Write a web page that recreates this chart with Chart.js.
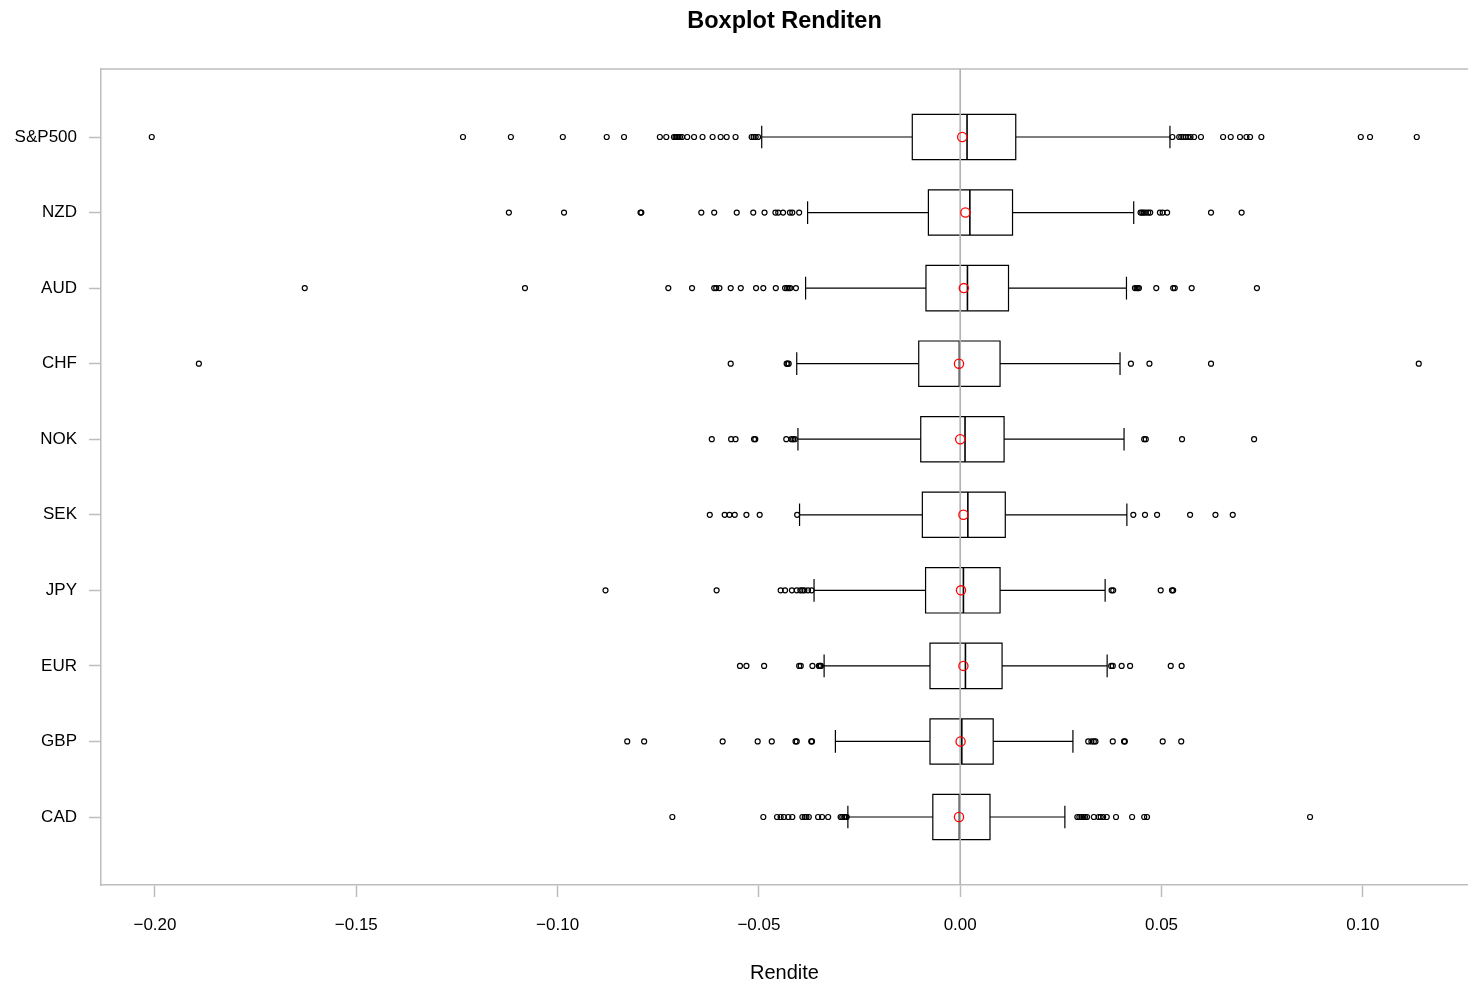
<!DOCTYPE html>
<html lang="de">
<head>
<meta charset="utf-8">
<title>Boxplot Renditen</title>
<script src="https://cdn.jsdelivr.net/npm/chart.js@4.4.1/dist/chart.umd.min.js"></script>
<style>
  html, body { margin: 0; padding: 0; background: #ffffff; }
  #wrap { position: relative; width: 1468px; height: 987px; }
</style>
</head>
<body>
<div id="wrap"><canvas id="chart"></canvas></div>
<script>
// Groups listed from bottom (position 1) to top (position 10)
const categories   = ['CAD', 'GBP', 'EUR', 'JPY', 'SEK', 'NOK', 'CHF', 'AUD', 'NZD', 'S&P500'];
const lowerWhisker = [-0.0279, -0.0310, -0.0338, -0.0363, -0.0399, -0.0403, -0.0406, -0.0384, -0.0379, -0.0493];
const q1           = [-0.0068, -0.0075, -0.0075, -0.0086, -0.0094, -0.0098, -0.0103, -0.0085, -0.0079, -0.0119];
const median       = [-0.0002,  0.0004,  0.0013,  0.0008,  0.0019,  0.0012, -0.0002,  0.0018,  0.0024,  0.0017];
const q3           = [ 0.0074,  0.0082,  0.0104,  0.0099,  0.0112,  0.0109,  0.0099,  0.0120,  0.0130,  0.0138];
const upperWhisker = [ 0.0260,  0.0280,  0.0365,  0.0360,  0.0414,  0.0407,  0.0397,  0.0413,  0.0431,  0.0521];
const means        = [-0.0003,  0.0001,  0.0008,  0.0002,  0.0008,  0.0000, -0.0003,  0.0009,  0.0013,  0.0005];

const outliersCAD = [-0.0715, -0.0489, -0.0455, -0.0446, -0.0438, -0.0427, -0.0417, -0.0392, -0.0386, -0.0382, -0.0376,
  -0.0353, -0.0343, -0.0328, -0.0297, -0.0293, -0.0288, -0.0285, -0.0282,
  0.0291, 0.0296, 0.0301, 0.0306, 0.0310, 0.0315, 0.0332, 0.0344, 0.0349, 0.0355, 0.0364, 0.0387, 0.0427, 0.0457, 0.0464, 0.0869];
const outliersGBP = [-0.0827, -0.0785, -0.0590, -0.0503, -0.0468, -0.0409, -0.0406, -0.0370, -0.0368,
  0.0318, 0.0326, 0.0332, 0.0336, 0.0379, 0.0407, 0.0409, 0.0503, 0.0549];
const outliersEUR = [-0.0547, -0.0531, -0.0487, -0.0400, -0.0396, -0.0367, -0.0351, -0.0348, -0.0346,
  0.0375, 0.0379, 0.0401, 0.0422, 0.0523, 0.0550];
const outliersJPY = [-0.0881, -0.0605, -0.0446, -0.0435, -0.0418, -0.0406, -0.0397, -0.0392, -0.0387, -0.0378, -0.0369,
  0.0376, 0.0380, 0.0498, 0.0526, 0.0529];
const outliersSEK = [-0.0622, -0.0585, -0.0573, -0.0560, -0.0531, -0.0498, -0.0405,
  0.0430, 0.0459, 0.0489, 0.0571, 0.0634, 0.0677];
const outliersNOK = [-0.0617, -0.0569, -0.0558, -0.0512, -0.0509, -0.0432, -0.0419, -0.0415, -0.0411,
  0.0457, 0.0461, 0.0551, 0.0730];
const outliersCHF = [-0.1891, -0.0570, -0.0431, -0.0429, -0.0426, 0.0424, 0.0470, 0.0623, 0.1139];
const outliersAUD = [-0.1628, -0.1081, -0.0725, -0.0666, -0.0611, -0.0606, -0.0598, -0.0570, -0.0545, -0.0507, -0.0489,
  -0.0458, -0.0435, -0.0430, -0.0426, -0.0422, -0.0408,
  0.0434, 0.0438, 0.0441, 0.0444, 0.0487, 0.0529, 0.0533, 0.0575, 0.0737];
const outliersNZD = [-0.1121, -0.0984, -0.0794, -0.0792, -0.0643, -0.0611, -0.0555, -0.0514, -0.0486, -0.0459, -0.0452,
  -0.0440, -0.0423, -0.0417, -0.0400,
  0.0448, 0.0452, 0.0456, 0.0461, 0.0467, 0.0472, 0.0496, 0.0503, 0.0514, 0.0623, 0.0699];
const outliersSP500 = [-0.2008, -0.1235, -0.1116, -0.0987, -0.0878, -0.0835, -0.0746, -0.0730, -0.0711, -0.0707, -0.0704,
  -0.0700, -0.0696, -0.0691, -0.0678, -0.0661, -0.0640, -0.0615, -0.0595, -0.0580, -0.0558, -0.0518, -0.0513, -0.0508, -0.0502,
  0.0527, 0.0544, 0.0549, 0.0554, 0.0560, 0.0566, 0.0572, 0.0581, 0.0598, 0.0653, 0.0672, 0.0695, 0.0711, 0.0720, 0.0748,
  0.0995, 0.1018, 0.1134];
const outliers = [outliersCAD, outliersGBP, outliersEUR, outliersJPY, outliersSEK, outliersNOK,
  outliersCHF, outliersAUD, outliersNZD, outliersSP500];

const xTicks = [-0.20, -0.15, -0.10, -0.05, 0.00, 0.05, 0.10];
const referenceLine = 0;

// Axis ranges and drawing sizes (in axis units)
const X_MIN = -0.21341, X_MAX = 0.12613;
const Y_MIN = 0.1, Y_MAX = 10.9;
const BOX_HALF = 0.3, CAP_HALF = 0.15;
const FONT = "'Liberation Sans', Arial, Helvetica, sans-serif";
const FRAME = '#bdbdbd';

const gap = () => ({ x: null, y: null });
const boxPts = [], whiskerPts = [], medianPts = [], outlierPts = [], meanPts = [];

categories.forEach((name, i) => {
  const y = i + 1;
  boxPts.push(
    { x: q1[i], y: y - BOX_HALF }, { x: q3[i], y: y - BOX_HALF },
    { x: q3[i], y: y + BOX_HALF }, { x: q1[i], y: y + BOX_HALF },
    { x: q1[i], y: y - BOX_HALF }, gap());
  whiskerPts.push(
    { x: lowerWhisker[i], y }, { x: q1[i], y }, gap(),
    { x: q3[i], y }, { x: upperWhisker[i], y }, gap(),
    { x: lowerWhisker[i], y: y - CAP_HALF }, { x: lowerWhisker[i], y: y + CAP_HALF }, gap(),
    { x: upperWhisker[i], y: y - CAP_HALF }, { x: upperWhisker[i], y: y + CAP_HALF }, gap());
  medianPts.push({ x: median[i], y: y - BOX_HALF }, { x: median[i], y: y + BOX_HALF }, gap());
  outliers[i].forEach(v => outlierPts.push({ x: v, y }));
  meanPts.push({ x: means[i], y });
});

const lineSet = (label, data, color, width, order, extra) => Object.assign({
  label, data, showLine: true, borderColor: color, borderWidth: width,
  pointRadius: 0, pointHoverRadius: 0, fill: false, spanGaps: false,
  borderJoinStyle: 'miter', borderCapStyle: 'butt', order
}, extra || {});

// Top edge of the plot frame
const framePlugin = {
  id: 'frameTop',
  beforeDatasetsDraw(chart) {
    const { ctx, chartArea } = chart;
    ctx.save();
    ctx.strokeStyle = FRAME;
    ctx.lineWidth = 1.5;
    ctx.beginPath();
    ctx.moveTo(chartArea.left, chartArea.top);
    ctx.lineTo(chartArea.right, chartArea.top);
    ctx.stroke();
    ctx.restore();
  }
};

const fmt = v => {
  const s = Math.abs(v).toFixed(2);
  return (v < -1e-9 ? '\u2212' : '') + s;
};

new Chart(document.getElementById('chart'), {
  type: 'scatter',
  data: {
    datasets: [
      {
        label: 'Mittelwert', data: meanPts, order: 0,
        pointStyle: 'circle', pointRadius: 4.6, pointHoverRadius: 4.6,
        pointBorderColor: '#ff0000', pointBackgroundColor: 'rgba(0,0,0,0)', pointBorderWidth: 1.3
      },
      lineSet('Null', [{ x: referenceLine, y: Y_MIN }, { x: referenceLine, y: Y_MAX }], '#b3b3b3', 1.7, 1),
      {
        label: 'Ausreißer', data: outlierPts, order: 2,
        pointStyle: 'circle', pointRadius: 2.5, pointHoverRadius: 2.5,
        pointBorderColor: '#000000', pointBackgroundColor: 'rgba(0,0,0,0)', pointBorderWidth: 1.2
      },
      lineSet('Median', medianPts, '#000000', 1.6, 3),
      lineSet('Whisker', whiskerPts, '#000000', 1.2, 4),
      lineSet('Box', boxPts, '#000000', 1.2, 5, { borderCapStyle: 'square' })
    ]
  },
  options: {
    responsive: true,
    maintainAspectRatio: false,
    animation: false,
    events: [],
    layout: { padding: 0, autoPadding: false },
    plugins: {
      legend: { display: false },
      tooltip: { enabled: false },
      title: {
        display: true, text: 'Boxplot Renditen', fullSize: false, color: '#000000',
        font: { family: FONT, size: 23.5, weight: 'bold', lineHeight: 1.2 },
        padding: { top: 7, bottom: 33.8 }
      }
    },
    scales: {
      x: {
        type: 'linear', min: X_MIN, max: X_MAX,
        afterBuildTicks: s => { s.ticks = xTicks.map(v => ({ value: v })); },
        afterFit: s => { s.height = 102; },
        ticks: {
          callback: v => fmt(v), color: '#000000', padding: 18,
          font: { family: FONT, size: 17 }, maxRotation: 0, autoSkip: false
        },
        grid: { drawOnChartArea: false, drawTicks: true, tickLength: 12, tickColor: FRAME, tickWidth: 1.5 },
        border: { display: true, color: FRAME, width: 1.5 },
        title: {
          display: true, text: 'Rendite', color: '#000000',
          font: { family: FONT, size: 20 }, padding: { top: 0, bottom: 2 }
        }
      },
      y: {
        type: 'linear', min: Y_MIN, max: Y_MAX,
        afterBuildTicks: s => { s.ticks = categories.map((c, i) => ({ value: i + 1 })); },
        afterFit: s => { s.width = 101; },
        ticks: {
          callback: v => categories[Math.round(v) - 1], color: '#000000', padding: 12,
          font: { family: FONT, size: 17 }, autoSkip: false
        },
        grid: { drawOnChartArea: false, drawTicks: true, tickLength: 12, tickColor: FRAME, tickWidth: 1.5 },
        border: { display: true, color: FRAME, width: 1.5 }
      }
    }
  },
  plugins: [framePlugin]
});
</script>
</body>
</html>
